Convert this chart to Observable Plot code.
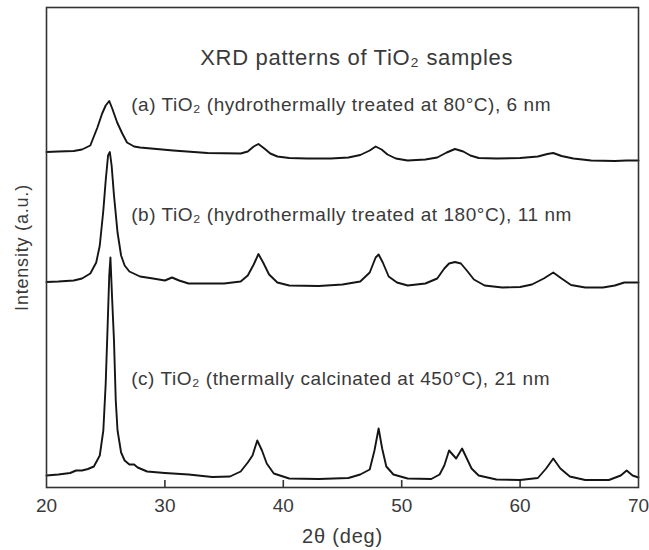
<!DOCTYPE html>
<html>
<head>
<meta charset="utf-8">
<script src="https://cdn.jsdelivr.net/npm/d3@7"></script>
<script src="https://cdn.jsdelivr.net/npm/@observablehq/plot@0.6"></script>
<style>
  html, body { margin: 0; padding: 0; background: #fff; }
  .lbl text { letter-spacing: 0.55px; }
  .ttl text { letter-spacing: 0.7px; }
  .axl text { letter-spacing: 0.8px; }
</style>
</head>
<body>
<div id="chart"></div>
<script>
// ---- Data (intensities in a.u., already stacked) ----
const angleA = [20.0,21.0,22.3,23.0,23.7,24.3,24.7,25.0,25.3,25.55,25.97,26.4,26.8,27.4,27.9,30.7,33.6,36.4,37.0,37.5,37.9,38.4,38.9,39.5,40.5,42,44,45.5,46.5,47.3,47.8,48.3,48.8,49.5,50.5,52,53,53.8,54.5,55.2,55.8,56.5,58,60,61.5,62.3,62.8,63.5,64.5,66,68,69,70];
const intensityA = [335.5,336,336.5,338,342,360,374,382,386.5,379,365,354,345,341,340,337,334.5,334,336,341,343.5,339,334,331,329.5,329,329,330,332.5,337,341,338,333,329,327,328,330,335,338.5,336,332,329.5,329,329.5,331,333.5,334.5,331.5,329,327,326.5,327,327];

const angleB = [20.0,21.0,22.3,23.0,23.7,24.2,24.5,24.8,25.0,25.2,25.35,25.5,25.7,26.0,26.3,26.6,27.0,27.9,29.0,30.0,30.6,31.2,32.0,33.5,35.0,36.4,37.0,37.5,37.9,38.3,38.8,39.5,40.5,43,45,46.5,47.3,47.8,48.05,48.4,48.9,49.6,50.5,52,53,53.6,54.0,54.5,55.0,55.5,56.1,57,58.5,60,61,62,62.8,63.5,64.3,65.5,67,68,68.8,70];
const intensityB = [205.5,206,207,209,214,225,242,277,307,332,335.5,322,292,255,232,222,216,211,209,207,210,207,204,204,204,206,212,223,233.5,225,213,205,202,201.5,203,206,215,230,233,225,211,205,202,204,209,219,224,225.5,224,217,208,202,200,200.5,203,209,215,209,202.5,200,200,202,205,205];

const angleC = [20.0,21.0,22.0,22.5,23.0,23.5,24.0,24.5,24.8,25.0,25.15,25.3,25.4,25.55,25.7,25.85,26.0,26.3,26.6,27.0,27.4,27.7,28.5,30,32,34,35.5,36.4,37.0,37.4,37.8,38.2,38.6,39.2,40.5,43,45.5,46.5,47.3,47.7,48.05,48.35,48.7,49.3,50.5,52.5,53.2,53.6,54.0,54.6,55.1,55.5,55.9,56.5,58,60,61.5,62.2,62.8,63.4,64.2,65.5,67.5,68.5,69.0,69.5,70];
const intensityC = [12,13,14.5,17,17,18.5,21,32,57,104,157,212,230,187,147,87,57,35,27,23,23,20,16,14.5,13,10.5,11,16,25,32,47,37,24,14,9,8.5,9.5,13,18,37,59,39,21,13,9,8.5,13,22,37,29,39,29,19,12,8,7.5,9.5,19,29,19,11,7.5,7.5,12,17,12,10];

const seriesNames = ["a", "b", "c"];
const xTicks = [20, 30, 40, 50, 60, 70];
const innerTicks = [30, 40, 50, 60];

const titleText = "XRD patterns of TiO\u2082 samples";
const sampleLabels = [
  "(a) TiO\u2082 (hydrothermally treated at 80\u00B0C), 6 nm",
  "(b) TiO\u2082 (hydrothermally treated at 180\u00B0C), 11 nm",
  "(c) TiO\u2082 (thermally calcinated at 450\u00B0C), 21 nm"
];
const xLabel = "2\u03B8 (deg)";
const yLabel = "Intensity (a.u.)";

// ---- Build table ----
const src = [[angleA, intensityA], [angleB, intensityB], [angleC, intensityC]];
const rows = [];
src.forEach(([ang, inten], i) => {
  ang.forEach((t, j) => rows.push({series: seriesNames[i], t, v: inten[j]}));
});

const labelRows = [
  {text: sampleLabels[0], t: 27.15, v: 383},
  {text: sampleLabels[1], t: 27.15, v: 273},
  {text: sampleLabels[2], t: 27.15, v: 109}
];

const ink = "#3a3a3a";

const chart = Plot.plot({
  width: 649,
  height: 550,
  marginLeft: 46,
  marginRight: 11,
  marginTop: 7,
  marginBottom: 63,
  style: {fontFamily: "'Liberation Sans', Arial, Helvetica, sans-serif", fontSize: "19px", background: "#fff", color: ink},
  x: {domain: [20, 70]},
  y: {domain: [0, 480], axis: null},
  marks: [
    Plot.axisX({ticks: xTicks, tickSize: 0, tickPadding: 11, label: null, fontSize: 19, fill: ink}),
    Plot.ruleX(innerTicks, {y1: 0, y2: 7, stroke: "#333", strokeWidth: 1.6}),
    Plot.line(rows, {x: "t", y: "v", z: "series", stroke: "#151515", strokeWidth: 1.9, strokeLinejoin: "round", curve: "linear"}),
    Plot.frame({stroke: "#333", strokeWidth: 1.6}),
    Plot.text([titleText], {x: 46.2, y: 430, text: d => d, fontSize: 22, fill: ink, className: "ttl"}),
    Plot.text(labelRows, {x: "t", y: "v", text: "text", textAnchor: "start", fontSize: 19, fill: ink, className: "lbl"}),
    Plot.text([xLabel], {frameAnchor: "bottom", dy: 55, text: d => d, fontSize: 20, fill: ink, className: "axl"}),
    Plot.text([yLabel], {frameAnchor: "left", textAnchor: "middle", dx: -24, rotate: -90, text: d => d, fontSize: 18, fill: ink, className: "axl"})
  ]
});
document.getElementById("chart").appendChild(chart);
</script>
</body>
</html>
